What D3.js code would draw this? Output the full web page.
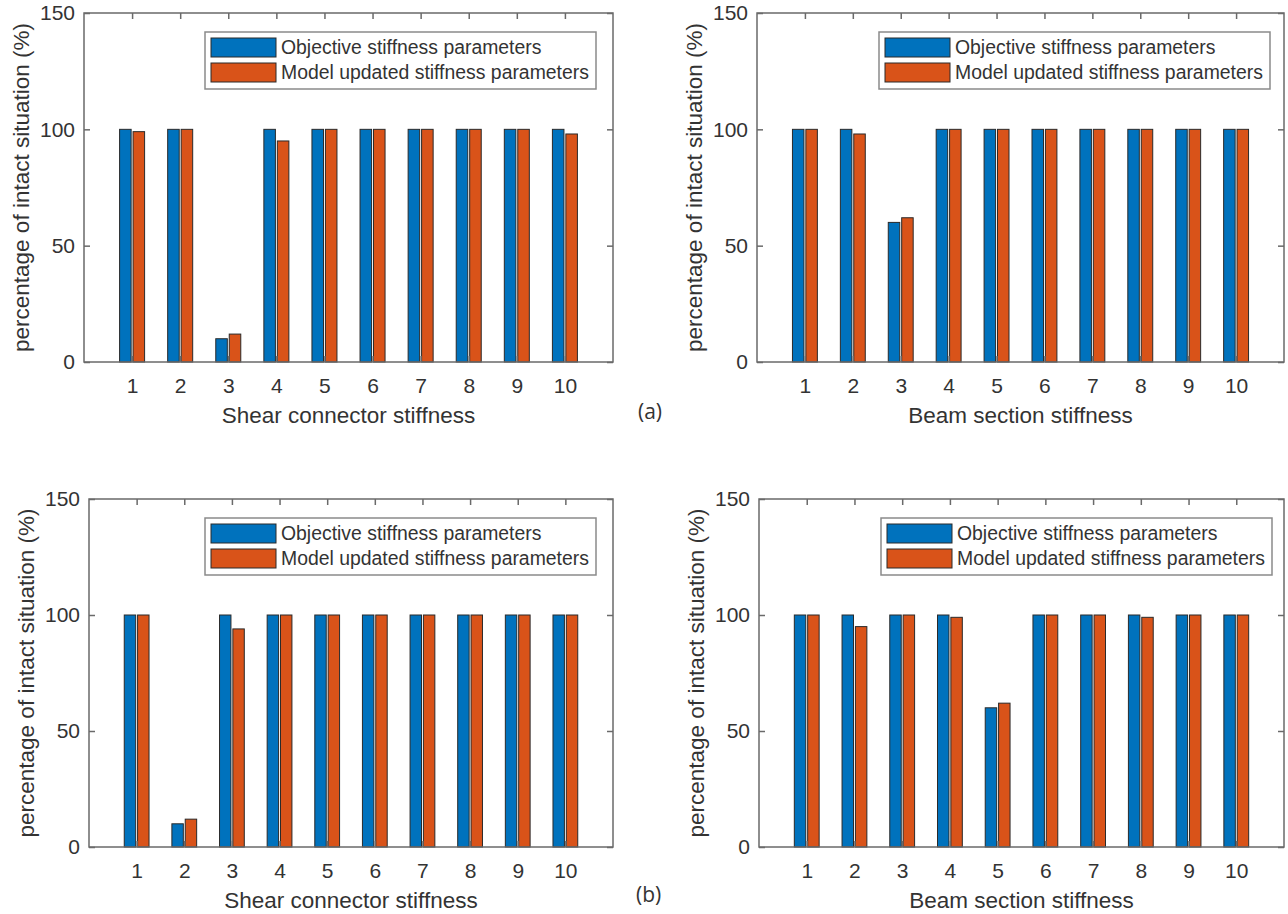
<!DOCTYPE html>
<html>
<head>
  <meta charset="utf-8">
  <script src="https://d3js.org/d3.v7.min.js"></script>
  <style>
    body { margin: 0; background: #fff; }
    svg text { font-family: "Liberation Sans", Arial, sans-serif; fill: #333; }
  </style>
</head>
<body>
<div id="area"></div>
<script>
  // categories and tick labels
  var categories = [1, 2, 3, 4, 5, 6, 7, 8, 9, 10];
  var yTicks = [0, 50, 100, 150];
  var seriesNames = ["Objective stiffness parameters", "Model updated stiffness parameters"];

  // (a) shear connector
  var shearObjA = [100, 100, 10, 100, 100, 100, 100, 100, 100, 100];
  var shearUpdA = [99, 100, 12, 95, 100, 100, 100, 100, 100, 98];
  // (a) beam section
  var beamObjA = [100, 100, 60, 100, 100, 100, 100, 100, 100, 100];
  var beamUpdA = [100, 98, 62, 100, 100, 100, 100, 100, 100, 100];
  // (b) shear connector
  var shearObjB = [100, 10, 100, 100, 100, 100, 100, 100, 100, 100];
  var shearUpdB = [100, 12, 94, 100, 100, 100, 100, 100, 100, 100];
  // (b) beam section
  var beamObjB = [100, 100, 100, 100, 60, 100, 100, 100, 100, 100];
  var beamUpdB = [100, 95, 100, 99, 62, 100, 100, 99, 100, 100];

  var colors = ["#0072BD", "#D95319"];

  var svg = d3.select("#area").append("svg")
    .attr("width", 1288)
    .attr("height", 914);

  function drawPanel(box, obj, upd, xTitle) {
    var x = d3.scaleLinear().domain([0, 11]).range([box.x0, box.x1]);
    var y = d3.scaleLinear().domain([0, 150]).range([box.y1, box.y0]);
    var g = svg.append("g");

    // bars
    var offs = [-0.14, 0.14], bw = 0.24;
    [obj, upd].forEach(function(vals, s) {
      g.selectAll(null).data(vals).enter().append("rect")
        .attr("x", function(d, i) { return x(categories[i] + offs[s] - bw / 2); })
        .attr("width", x(bw) - x(0))
        .attr("y", function(d) { return y(d); })
        .attr("height", function(d) { return y(0) - y(d); })
        .attr("fill", colors[s])
        .attr("stroke", "#2a2a2a")
        .attr("stroke-width", 1);
    });

    // box
    g.append("rect")
      .attr("x", box.x0).attr("y", box.y0)
      .attr("width", box.x1 - box.x0).attr("height", box.y1 - box.y0)
      .attr("fill", "none").attr("stroke", "#6a6a6a").attr("stroke-width", 1.5);

    // axes with inward ticks
    var xb = g.append("g").attr("transform", "translate(0," + box.y1 + ")")
      .call(d3.axisBottom(x).tickValues(categories).tickSize(-6).tickPadding(16));
    var xt = g.append("g").attr("transform", "translate(0," + box.y0 + ")")
      .call(d3.axisTop(x).tickValues(categories).tickSize(-6).tickFormat(""));
    var yl = g.append("g").attr("transform", "translate(" + box.x0 + ",0)")
      .call(d3.axisLeft(y).tickValues(yTicks).tickSize(-6).tickPadding(9));
    var yr = g.append("g").attr("transform", "translate(" + box.x1 + ",0)")
      .call(d3.axisRight(y).tickValues(yTicks).tickSize(-6).tickFormat(""));
    [xb, xt, yl, yr].forEach(function(a) {
      a.select(".domain").remove();
      a.selectAll(".tick line").attr("stroke", "#6a6a6a").attr("stroke-width", 1.5);
      a.selectAll("text").style("font-size", "21px").style("font-family", null).attr("fill", "#333");
    });

    // axis titles
    g.append("text")
      .attr("x", (box.x0 + box.x1) / 2).attr("y", box.y1 + 61)
      .attr("text-anchor", "middle").style("font-size", "22.5px")
      .text(xTitle);
    g.append("text")
      .attr("transform", "translate(" + (box.x0 - 55) + "," + ((box.y0 + box.y1) / 2) + ") rotate(-90)")
      .attr("text-anchor", "middle").style("font-size", "22.5px")
      .text("percentage of intact situation (%)");

    // legend
    var lg = g.append("g").attr("transform", "translate(" + box.lx + "," + (box.y0 + 19) + ")");
    lg.append("rect").attr("width", 391).attr("height", 57)
      .attr("fill", "#fff").attr("stroke", "#8a8a8a").attr("stroke-width", 1.5);
    seriesNames.forEach(function(name, s) {
      lg.append("rect").attr("x", 6).attr("y", 6 + s * 25).attr("width", 65).attr("height", 19)
        .attr("fill", colors[s]).attr("stroke", "#2a2a2a").attr("stroke-width", 1);
      lg.append("text").attr("x", 76).attr("y", 22 + s * 25)
        .style("font-size", "19.4px").text(name);
    });
  }

  drawPanel({x0: 84, x1: 613, y0: 13, y1: 362, lx: 205}, shearObjA, shearUpdA, "Shear connector stiffness");
  drawPanel({x0: 757, x1: 1284, y0: 13, y1: 362, lx: 879}, beamObjA, beamUpdA, "Beam section stiffness");
  drawPanel({x0: 89, x1: 613, y0: 499, y1: 847, lx: 205}, shearObjB, shearUpdB, "Shear connector stiffness");
  drawPanel({x0: 759, x1: 1284, y0: 499, y1: 847, lx: 881}, beamObjB, beamUpdB, "Beam section stiffness");

  // panel labels
  svg.append("text").attr("x", 638).attr("y", 419).style("font-family", "'Open Sans', sans-serif")
    .style("font-size", "21px").text("(a)");
  svg.append("text").attr("x", 636).attr("y", 902).style("font-family", "'Open Sans', sans-serif")
    .style("font-size", "21px").text("(b)");
</script>
</body>
</html>
